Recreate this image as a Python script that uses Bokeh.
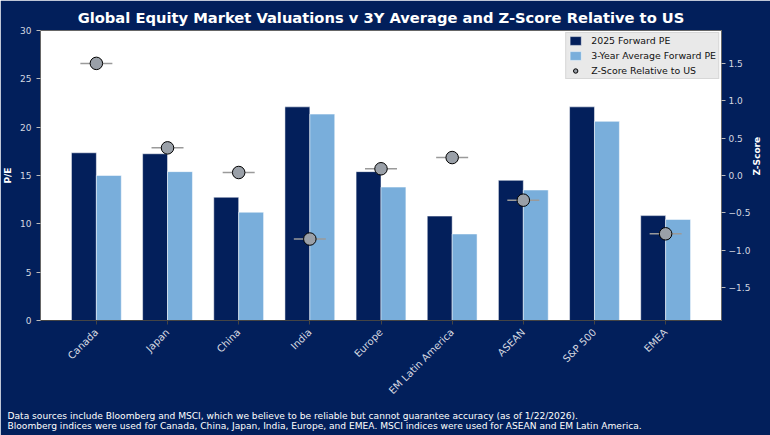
import math
import numpy as np
from bokeh.plotting import figure
from bokeh.models import (ColumnDataSource, Range1d, LinearAxis, FixedTicker,
                          CustomJSTickFormatter, Legend, LegendItem, Title)
from bokeh.transform import dodge
from bokeh.embed import file_html
from bokeh.resources import INLINE

# Markets and valuation data
markets = ["Canada", "Japan", "China", "India", "Europe",
           "EM Latin America", "ASEAN", "S&P 500", "EMEA"]
pe_2025 = [17.35, 17.25, 12.75, 22.1, 15.4, 10.8, 14.5, 22.1, 10.85]
pe_3y_avg = [15.0, 15.4, 11.2, 21.35, 13.8, 8.95, 13.5, 20.6, 10.45]
z_score = [1.50, 0.37, 0.04, -0.85, 0.09, 0.24, -0.33, float("nan"), -0.78]

left_ticks = [0, 5, 10, 15, 20, 25, 30]
right_ticks = [-1.5, -1.0, -0.5, 0.0, 0.5, 1.0, 1.5]

BG = "#021f5b"
DARK = "#031f5b"
LIGHT = "#79aedb"
FONT = "DejaVu Sans"

W, H = 770, 435
FL, FR, FT, FB = 40, 721, 30, 322

idx = list(range(len(markets)))
src = ColumnDataSource(dict(x=idx, pe=pe_2025, avg=pe_3y_avg))
zx = [i for i, z in zip(idx, z_score) if not math.isnan(z)]
zv = [z for z in z_score if not math.isnan(z)]
zsrc = ColumnDataSource(dict(x=zx, z=zv))

p = figure(width=W, height=H, output_backend="svg", toolbar_location=None,
           x_range=Range1d(-0.785, 8.785), y_range=Range1d(0, 30),
           min_border_left=FL, min_border_right=W - FR, min_border_top=FT,
           min_border_bottom=H - FB)
p.background_fill_color = "white"
p.border_fill_color = BG
p.outline_line_color = "#666666"
p.grid.visible = False

p.title.text = "Global Equity Market Valuations v 3Y Average and Z-Score Relative to US"
p.title.align = "center"
p.title.offset = 4
p.title.text_color = "white"
p.title.text_font = FONT
p.title.text_font_style = "bold"
p.title.text_font_size = "14.7px"
p.title.standoff = 10

p.extra_y_ranges = {"z": Range1d(-1.94, 1.94)}

bw = 0.35
r1 = p.vbar(x=dodge("x", -bw / 2), top="pe", width=bw, source=src,
            fill_color=DARK, line_color="white", line_width=0.5)
r2 = p.vbar(x=dodge("x", bw / 2), top="avg", width=bw, source=src,
            fill_color=LIGHT, line_color="white", line_width=0.5)

p.scatter(x="x", y="z", source=zsrc, y_range_name="z", marker="dash",
          size=32, line_color="#9a9a9a", line_width=1.5)
r3 = p.scatter(x="x", y="z", source=zsrc, y_range_name="z", marker="circle",
               size=12.5, fill_color="#9aa0a8", line_color="black", line_width=1)

tick_color = "#d5d8e0"

# bottom axis with market names
xa = p.xaxis[0]
xa.ticker = FixedTicker(ticks=idx)
xa.major_label_overrides = {i: m for i, m in zip(idx, markets)}
xa.major_label_orientation = math.pi / 4
xa.major_label_text_color = tick_color
xa.major_label_text_font = FONT
xa.major_label_text_font_size = "10px"
xa.major_label_standoff = 6
xa.axis_line_color = "#444444"
xa.major_tick_line_color = "#444444"
xa.major_tick_out = 4
xa.major_tick_in = 0
xa.minor_tick_line_color = None

# left P/E axis
ya = p.yaxis[0]
ya.ticker = FixedTicker(ticks=left_ticks)
ya.axis_label = "P/E"
ya.axis_label_text_color = "white"
ya.axis_label_text_font = FONT
ya.axis_label_text_font_style = "bold"
ya.axis_label_text_font_size = "9px"
ya.axis_label_standoff = 4
ya.major_label_text_color = tick_color
ya.major_label_text_font = FONT
ya.major_label_text_font_size = "9px"
ya.axis_line_color = "#666666"
ya.major_tick_line_color = "#bbbbbb"
ya.major_tick_out = 4
ya.major_tick_in = 0
ya.minor_tick_line_color = None

# right Z-score axis
za = LinearAxis(y_range_name="z", ticker=FixedTicker(ticks=right_ticks),
                formatter=CustomJSTickFormatter(
                    code="return (tick < 0 ? '\u2212' : '') + Math.abs(tick).toFixed(1);"))
za.axis_label = "Z-Score"
za.axis_label_text_color = "white"
za.axis_label_text_font = FONT
za.axis_label_text_font_style = "bold"
za.axis_label_text_font_size = "9px"
za.axis_label_standoff = 4
if hasattr(za, "axis_label_orientation"):
    za.axis_label_orientation = math.pi / 2
za.major_label_standoff = 3
za.major_label_text_color = tick_color
za.major_label_text_font = FONT
za.major_label_text_font_size = "9px"
za.axis_line_color = "#666666"
za.major_tick_line_color = "#bbbbbb"
za.major_tick_out = 4
za.major_tick_in = 0
za.minor_tick_line_color = None
p.add_layout(za, "right")

legend = Legend(items=[
    LegendItem(label="2025 Forward PE", renderers=[r1]),
    LegendItem(label="3-Year Average Forward PE", renderers=[r2]),
    LegendItem(label="Z-Score Relative to US", renderers=[r3]),
], location="top_right")
legend.background_fill_color = "#e8e8e8"
legend.background_fill_alpha = 0.95
legend.border_line_color = "#cccccc"
legend.border_line_alpha = 0.6
legend.label_text_font = FONT
legend.label_text_font_size = "9.4px"
legend.label_text_color = "#111111"
legend.glyph_width = 14
legend.glyph_height = 11
legend.spacing = 4
legend.padding = 2
legend.margin = 2
legend.label_standoff = 9
legend.label_height = 11
p.add_layout(legend)

# source notes under the axis
notes = ("Data sources include Bloomberg and MSCI, which we believe to be reliable but cannot guarantee accuracy (as of 1/22/2026).\n"
         "Bloomberg indices were used for Canada, China, Japan, India, Europe, and EMEA. MSCI indices were used for ASEAN and EM Latin America.")
foot = Title(text=notes, align="left", offset=7 - FL, text_color="white",
             text_font=FONT, text_font_style="normal", text_font_size="9.1px",
             text_line_height=0.95, standoff=10)
p.add_layout(foot, "below")

open("out.html", "w").write(file_html(p, INLINE))
